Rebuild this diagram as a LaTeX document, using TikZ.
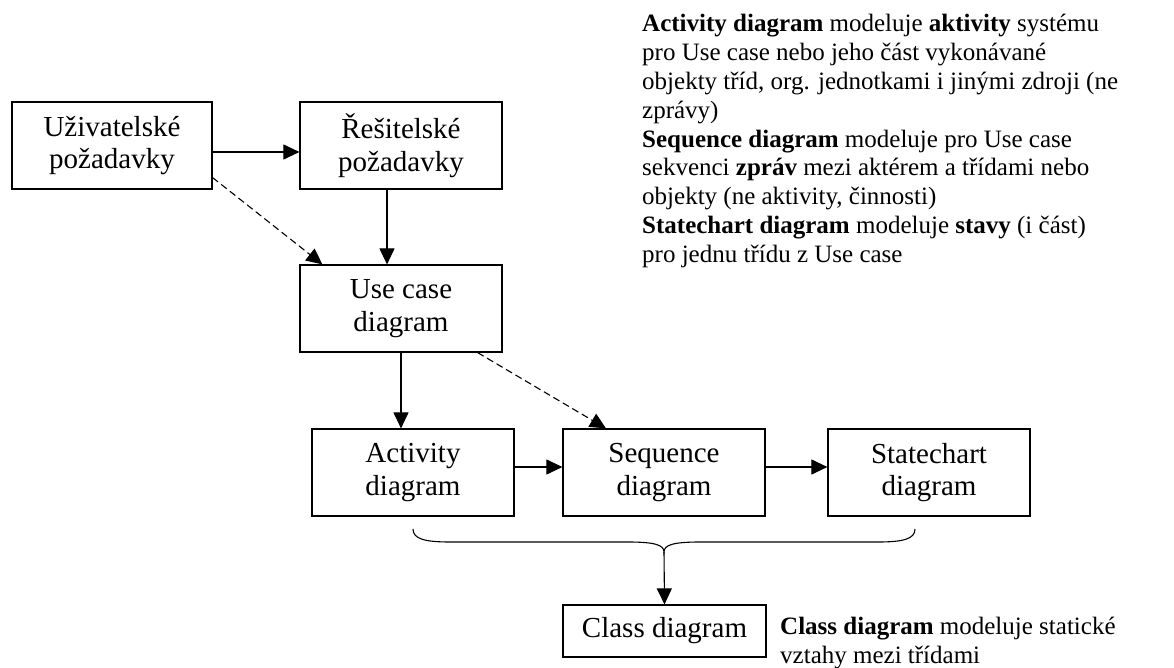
\documentclass[tikz,border=0pt]{standalone}
\usepackage{fontspec}
\setmainfont{Liberation Serif}
\usetikzlibrary{arrows.meta}
\begin{document}
\begin{tikzpicture}[x=1pt,y=-1pt,
  box/.style={draw, line width=1.2pt, minimum width=202pt, minimum height=87pt,
    align=center, inner sep=0pt, font=\fontsize{29}{32.7}\selectfont},
  arr/.style={line width=1.1pt, -{Triangle[length=16pt,width=15pt]}},
  dasharr/.style={arr, dash pattern=on 7pt off 4pt},
  note/.style={align=left, inner sep=0pt, font=\fontsize{25}{28.75}\selectfont}]
\useasboundingbox (0,0) rectangle (1174,668);

% requirement boxes
\node[box, minimum width=200pt] (uzi) at (112,145.5) {Uživatelské\\požadavky};
\node[box] (res) at (401,145.5) {Řešitelské\\požadavky};
\node[box] (uc) at (401,308.5) {Use case\\diagram};

% behaviour diagrams
\node[box] (act) at (413,472.5) {Activity\\diagram};
\node[box] (seq) at (664,472.5) {Sequence\\diagram};
\node[box] (st) at (929,472.5) {Statechart\\diagram};

% class diagram
\node[box, minimum width=203pt, minimum height=52pt] (cls) at (664.5,631) {Class diagram};

% connectors
\draw[arr] ([yshift=-6.5pt]uzi.east) -- ([yshift=-6.5pt]res.west);
\draw[arr] ([xshift=-14pt]res.south) -- ([xshift=-14pt]uc.north);
\draw[dasharr] ([yshift=12pt]uzi.south east) -- ([xshift=23pt]uc.north west);
\draw[arr] (uc.south) -- (uc.south |- act.north);
\draw[dasharr] ([xshift=-25pt]uc.south east) -- ([xshift=-58pt]seq.north);
\draw[arr] ([yshift=5.5pt]act.east) -- ([yshift=5.5pt]seq.west);
\draw[arr] ([yshift=5.5pt]seq.east) -- ([yshift=5.5pt]st.west);

% brace gathering the three behaviour diagrams
\coordinate (bracetip) at (664,552);
\draw[line width=1.1pt] (413,529) .. controls (413,539) and (425,542) .. (450,542)
  -- (628,542) .. controls (655,542) and (664,545) .. (bracetip)
  .. controls (664,545) and (673,542) .. (700,542)
  -- (878,542) .. controls (903,542) and (915,539) .. (915,529);
\draw[arr] (bracetip) -- (cls.north);

% explanatory notes (anchored at the baseline of their last line)
\node[note, anchor=base west] (notes) at (642,262) {%
\textbf{Activity diagram} modeluje \textbf{aktivity} systému\\
pro Use case nebo jeho část vykonávané\\
objekty tříd, org. jednotkami i jinými zdroji (ne\\
zprávy)\\
\textbf{Sequence diagram} modeluje pro Use case\\
sekvenci \textbf{zpráv} mezi aktérem a třídami nebo\\
objekty (ne aktivity, činnosti)\\
\textbf{Statechart diagram} modeluje \textbf{stavy} (i část)\\
pro jednu třídu z Use case};

\node[note, anchor=base west] (clsnote) at (780,663.5) {%
\textbf{Class diagram} modeluje statické\\
vztahy mezi třídami};
\end{tikzpicture}
\end{document}
